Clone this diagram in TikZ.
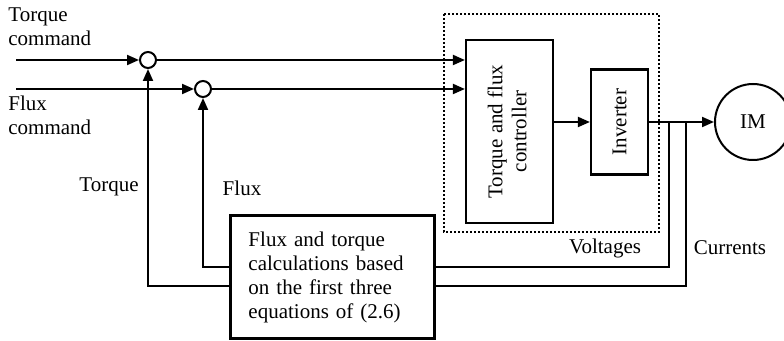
\documentclass[tikz,border=0pt]{standalone}
\usepackage{fontspec}
\setmainfont{Liberation Serif}
\usetikzlibrary{arrows.meta, calc}

\begin{document}
\begin{tikzpicture}[x=0.5pt,y=-0.5pt,
     font=\fontsize{10.5}{12}\selectfont,
     blk/.style={draw,rectangle,line width=1.1pt,inner sep=0pt},
     sumpt/.style={draw,circle,line width=1pt,minimum size=8pt,inner sep=0pt},
     lbl/.style={inner sep=0pt},
     sig/.style={line width=1pt},
     arr/.style={sig,-{Triangle[length=6pt,width=5pt]}}
     ]
\useasboundingbox (0,0) rectangle (784,341);

%Heights of the feedback lines
\def \yfx{267}
\def \ytq{286}

%Dotted frame round controller and inverter
\draw[line width=0.9pt,dash pattern=on 1pt off 1pt] (444,14) rectangle (659,232);

%Blocks
\node[blk,minimum width=43.5pt,minimum height=91.5pt] (ctrl) at (509.5,131.5)
   {\rotatebox{90}{\begin{tabular}{@{}c@{}}Torque and flux\\controller\end{tabular}}};
\node[blk,minimum width=28.5pt,minimum height=52.5pt] (inv) at (619.5,122) {\rotatebox{90}{Inverter}};
\node[draw,circle,line width=1pt,minimum size=38pt,inner sep=0pt] (im) at (753,122) {IM};
\node[blk,minimum width=102pt,minimum height=61.5pt,text width=84pt,align=left] (calc) at (332.5,277)
   {Flux and torque\\calculations based\\on the first three\\equations of (2.6)};

%Summing points, command inputs and feedback
\foreach \nm/\x/\y/\yb in {tq/148/60/\ytq, fx/203/89/\yfx}
   {
\node[sumpt] (sum\nm) at (\x,\y) {};
\coordinate (\nm in) at (16,\y);
\coordinate (\nm fb) at (0,\yb);
\draw[arr] (\nm in) -- (sum\nm);
\draw[arr] (sum\nm) -- (sum\nm -| ctrl.west);
\draw[arr] (calc.west |- \nm fb) -| (sum\nm);
   }

%Forward path
\draw[arr] (ctrl.east |- inv) -- (inv);
\draw[arr] (inv) -- (im);

%Voltage and current taps
\coordinate (vtap) at (669,122);
\coordinate (ctap) at (686,122);
\draw[sig] (vtap) |- (calc.east |- fxfb);
\draw[sig] (ctap) |- (calc.east |- tqfb);

%Labels
\node[lbl,anchor=west,align=left] (tqcmd) at (8,26.5) {Torque\\command};
\node[lbl,anchor=west,align=left] (fxcmd) at (8,115.5) {Flux\\command};
\node[lbl] (tqlbl) at (109,187) {Torque};
\node[lbl] (fxlbl) at (242,188) {Flux};
\node[lbl] (vlbl) at (605,248) {Voltages};
\node[lbl] (clbl) at (730,248) {Currents};
\end{tikzpicture}
\end{document}
